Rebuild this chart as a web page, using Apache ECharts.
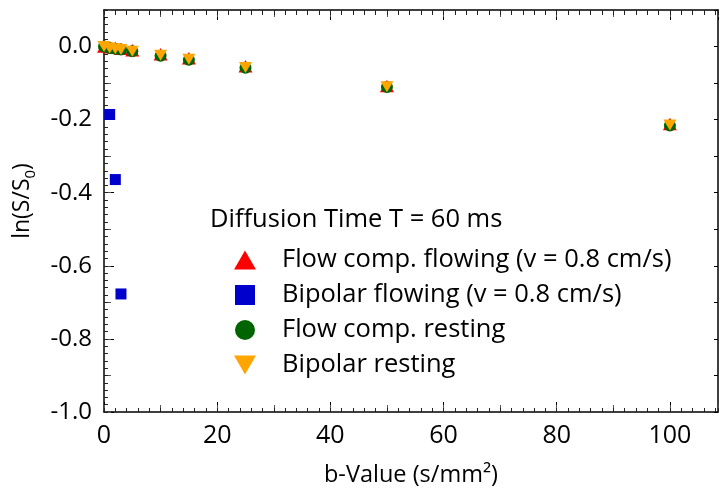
<!DOCTYPE html>
<html>
<head>
<meta charset="utf-8">
<title>ln(S/S0) vs b-Value</title>
<script src="https://cdn.jsdelivr.net/npm/echarts@6/dist/echarts.min.js"></script>
<style>
  html, body { margin: 0; padding: 0; background: #fff; }
  #chart { width: 721px; height: 492px; }
</style>
</head>
<body>
<div id="chart"></div>
<script>
// b-values (s/mm²) at which the signal was sampled
const bValues = [0, 1, 2, 3, 5, 10, 15, 25, 50, 100];
const bValuesBipolarFlow = [1, 2, 3];

// ln(S/S0) for each acquisition, T = 60 ms
const flowCompFlowing = [0, -0.002, -0.003, -0.006, -0.010, -0.021, -0.032, -0.054, -0.108, -0.212];
const bipolarFlowing = [-0.186, -0.364, -0.677];
const flowCompResting = [0, -0.004, -0.006, -0.008, -0.013, -0.025, -0.036, -0.058, -0.111, -0.216];
const bipolarResting = [0, -0.004, -0.006, -0.008, -0.013, -0.024, -0.035, -0.057, -0.110, -0.215];

const seriesNames = [
  'Flow comp. flowing (v = 0.8 cm/s)',
  'Bipolar flowing (v = 0.8 cm/s)',
  'Flow comp. resting',
  'Bipolar resting'
];
const legendTitle = 'Diffusion Time T = 60 ms';
const xTitle = 'b-Value (s/mm²)';

// axis ranges and tick spacing
const xRange = [0, 108.5];
const yRange = [-1.0, 0.1];
const xTickSteps = [20, 10, 2];
const yTickSteps = [0.2, 0.1, 0.02];

const FONT = '"Open Sans"';
const TRI_UP = 'path://M5,0L10,8.66L0,8.66Z';
const TRI_DOWN = 'path://M0,0L10,0L5,8.66Z';
const SQUARE = 'path://M0,0H10V10H0Z';

function pairs(xs, ys) { return xs.map((x, i) => [x, ys[i]]); }

const tickLen = [10, 7, 4];
const tickColor = ['#000', '#555', '#222'];

function xAxisSet(position, lens) {
  return xTickSteps.map((step, i) => ({
    type: 'value', position: position, min: xRange[0], max: xRange[1], interval: step,
    axisLine: { show: i === 0, onZero: false, lineStyle: { color: '#000', width: 1.5 } },
    axisTick: { show: true, inside: true, length: lens[i], lineStyle: { color: tickColor[i], width: 1 } },
    axisLabel: (position === 'bottom' && i === 0)
      ? { show: true, showMaxLabel: false, fontFamily: FONT, fontSize: 25, color: '#000', margin: 11 }
      : { show: false },
    splitLine: { show: false },
    name: (position === 'bottom' && i === 0) ? xTitle : '',
    nameLocation: 'middle', nameGap: 51,
    nameTextStyle: { fontFamily: FONT, fontSize: 23.5, color: '#000' }
  }));
}

function yAxisSet(position, steps, lens) {
  return steps.map((step, i) => ({
    type: 'value', position: position, min: yRange[0], max: yRange[1], interval: step,
    axisLine: { show: i === 0, onZero: false, lineStyle: { color: '#000', width: 1.5 } },
    axisTick: { show: true, inside: true, length: lens[i], lineStyle: { color: tickColor[i], width: 1 } },
    axisLabel: (position === 'left' && i === 0)
      ? { show: true, showMaxLabel: false, fontFamily: FONT, fontSize: 24, color: '#000', margin: 12,
          formatter: v => v.toFixed(1) }
      : { show: false },
    splitLine: { show: false },
    name: (position === 'left' && i === 0) ? '{t|ln(S/S}{s|0}{t|)}' : '',
    nameLocation: 'middle', nameGap: 66, nameRotate: 90,
    nameTextStyle: {
      padding: [0, 0, 0, 20],
      rich: {
        t: { fontFamily: FONT, fontSize: 23, color: '#000', lineHeight: 32 },
        s: { fontFamily: FONT, fontSize: 15, color: '#000', verticalAlign: 'bottom', lineHeight: 32 }
      }
    }
  }));
}

const xAxes = xAxisSet('bottom', tickLen).concat(xAxisSet('top', [10, 7, 5]));
const yAxes = yAxisSet('left', yTickSteps, tickLen).concat(yAxisSet('right', [0.1], [4]));

const chart = echarts.init(document.getElementById('chart'), null, { renderer: 'canvas' });

chart.setOption({
  backgroundColor: '#fff',
  animation: false,
  textStyle: { fontFamily: FONT },
  title: {
    text: legendTitle, left: 205, top: 202,
    textStyle: { fontFamily: FONT, fontSize: 25.5, fontWeight: 'normal', color: '#000' }
  },
  legend: {
    orient: 'vertical', left: 229, top: 242,
    itemWidth: 22, itemHeight: 20, itemGap: 9,
    symbolKeepAspect: true,
    textStyle: { fontFamily: FONT, fontSize: 25.5, color: '#000', padding: [0, 0, 0, 21], lineHeight: 22 },
    data: [
      { name: seriesNames[0], icon: TRI_UP },
      { name: seriesNames[1], icon: SQUARE },
      { name: seriesNames[2], icon: 'circle' },
      { name: seriesNames[3], icon: TRI_DOWN }
    ]
  },
  grid: { left: 104, right: 3, top: 10, bottom: 80, containLabel: false },
  xAxis: xAxes,
  yAxis: yAxes,
  series: [
    {
      name: seriesNames[0], type: 'scatter', symbol: TRI_UP, symbolSize: [14, 12.5],
      itemStyle: { color: '#ff0000', opacity: 1 }, data: pairs(bValues, flowCompFlowing)
    },
    {
      name: seriesNames[1], type: 'scatter', symbol: SQUARE, symbolSize: 11,
      itemStyle: { color: '#0000cc', opacity: 1 }, data: pairs(bValuesBipolarFlow, bipolarFlowing)
    },
    {
      name: seriesNames[2], type: 'scatter', symbol: 'circle', symbolSize: 12,
      itemStyle: { color: '#006400', opacity: 1 }, data: pairs(bValues, flowCompResting)
    },
    {
      name: seriesNames[3], type: 'scatter', symbol: TRI_DOWN, symbolSize: [13, 11],
      itemStyle: { color: '#ffa500', opacity: 1 }, data: pairs(bValues, bipolarResting)
    }
  ]
});
</script>
</body>
</html>
